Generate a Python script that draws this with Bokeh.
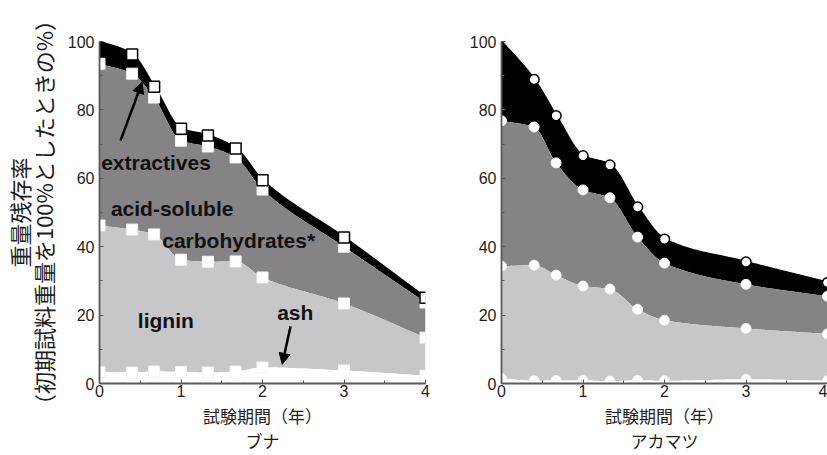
import numpy as np
from bokeh.plotting import figure
from bokeh.layouts import row
from bokeh.models import Arrow, NormalHead, Label, SingleIntervalTicker, Range1d
from bokeh.embed import file_html
from bokeh.resources import INLINE

# ---------------- data ----------------
years = [0, 0.4, 0.67, 1, 1.33, 1.67, 2, 3, 4]

buna_total = [100, 96.2, 86.8, 74.5, 72.5, 68.7, 59.4, 42.7, 25.1]
buna_noextr = [93.5, 90.6, 83.6, 71.0, 69.3, 66.1, 56.7, 40.0, 23.7]
buna_lignin = [46.2, 45.0, 43.6, 36.2, 35.6, 35.7, 31.0, 23.4, 13.4]
buna_ash = [3.3, 3.2, 3.5, 3.4, 3.2, 3.5, 4.7, 3.8, 2.3]

akamatsu_total = [100, 88.9, 78.3, 66.6, 63.9, 51.6, 42.2, 35.5, 29.5]
akamatsu_noextr = [76.8, 75.0, 64.5, 56.6, 54.3, 42.8, 35.2, 29.0, 25.5]
akamatsu_lignin = [34.3, 34.6, 31.7, 28.5, 27.6, 21.7, 18.5, 16.1, 14.5]
akamatsu_ash = [1.5, 0.8, 0.9, 0.9, 0.7, 0.9, 0.8, 1.2, 0.8]

x_label = "試験期間（年）"
y_label_1 = "重量残存率"
y_label_2 = "（初期試料重量を100%としたときの%）"
species = ["ブナ", "アカマツ"]

C_BLACK = "#000000"
C_MID = "#858385"
C_LIGHT = "#c7c6c9"
C_TEXT = "#1e1e1e"

TICK_FONT = "Liberation Sans"
JP_FONT = "Noto Sans CJK JP"


def pchip(x, y, xs):
    x = np.asarray(x, float)
    y = np.asarray(y, float)
    h = np.diff(x)
    d = np.diff(y) / h
    n = len(x)
    m = np.zeros(n)
    for k in range(1, n - 1):
        if d[k - 1] * d[k] > 0:
            w1 = 2 * h[k] + h[k - 1]
            w2 = h[k] + 2 * h[k - 1]
            m[k] = (w1 + w2) / (w1 / d[k - 1] + w2 / d[k])
    m[0] = d[0]
    m[-1] = d[-1]
    out = np.empty_like(xs)
    idx = np.clip(np.searchsorted(x, xs) - 1, 0, n - 2)
    for j, xv in enumerate(xs):
        k = idx[j]
        t = (xv - x[k]) / h[k]
        h00 = 2 * t**3 - 3 * t**2 + 1
        h10 = t**3 - 2 * t**2 + t
        h01 = -2 * t**3 + 3 * t**2
        h11 = t**3 - t**2
        out[j] = h00 * y[k] + h10 * h[k] * m[k] + h01 * y[k + 1] + h11 * h[k] * m[k + 1]
    return out


def make_panel(total, noextr, lignin, ash, marker, border_left, width, name, with_ylabel):
    p = figure(width=width, height=455, output_backend="svg", toolbar_location=None,
               x_range=Range1d(0, 4), y_range=Range1d(0, 100),
               min_border_left=border_left, min_border_right=width - border_left - 326,
               min_border_top=41, min_border_bottom=72)
    p.grid.visible = False
    p.outline_line_color = None
    p.background_fill_color = "white"

    xs = np.linspace(0, 4, 400)
    t_s = pchip(years, total, xs)
    n_s = pchip(years, noextr, xs)
    l_s = pchip(years, lignin, xs)
    a_s = pchip(years, ash, xs)

    p.varea(x=xs, y1=n_s, y2=t_s, fill_color=C_BLACK)
    p.varea(x=xs, y1=l_s, y2=n_s, fill_color=C_MID)
    p.varea(x=xs, y1=a_s, y2=l_s, fill_color=C_LIGHT)
    p.varea(x=xs, y1=0, y2=a_s, fill_color="white")
    p.line(x=xs, y=t_s, line_color="black", line_width=2.5)

    size = 11 if marker == "square" else 10
    for series in (noextr, lignin, ash):
        p.scatter(x=years, y=series, marker=marker, size=size,
                  fill_color="white", line_color="#f4f4f4", line_width=1)
    p.scatter(x=years[1:], y=total[1:], marker=marker, size=size,
              fill_color="white", line_color="black", line_width=1.5)

    p.xaxis.ticker = SingleIntervalTicker(interval=1, num_minor_ticks=2)
    p.yaxis.ticker = SingleIntervalTicker(interval=20, num_minor_ticks=2)
    for ax in (p.xaxis, p.yaxis):
        ax.axis_line_color = "#5a5a5a"
        ax.axis_line_width = 1.8
        ax.major_tick_in = 4
        ax.major_tick_out = 0
        ax.minor_tick_in = 3
        ax.minor_tick_out = 0
        ax.major_tick_line_color = "#5a5a5a"
        ax.minor_tick_line_color = "#5a5a5a"
        ax.major_label_text_font = TICK_FONT
        ax.major_label_text_font_size = "16px"
        ax.major_label_text_color = C_TEXT
    p.xaxis.major_label_standoff = 1
    p.yaxis.major_label_standoff = 5

    # x-axis title and species name as a two-line axis label
    p.xaxis.axis_label = x_label + "\n" + name
    p.xaxis.axis_label_text_font = JP_FONT
    p.xaxis.axis_label_text_font_size = "17px"
    p.xaxis.axis_label_text_font_style = "normal"
    p.xaxis.axis_label_text_color = C_TEXT
    p.xaxis.axis_label_text_line_height = 1.0
    p.xaxis.axis_label_standoff = 3

    if with_ylabel:
        p.yaxis.axis_label = y_label_1 + "\n" + y_label_2
        p.yaxis.axis_label_text_font = JP_FONT
        p.yaxis.axis_label_text_font_size = "22px"
        p.yaxis.axis_label_text_font_style = "normal"
        p.yaxis.axis_label_text_color = C_TEXT
        p.yaxis.axis_label_text_line_height = 0.73
        p.yaxis.axis_label_standoff = 6
    return p


p1 = make_panel(buna_total, buna_noextr, buna_lignin, buna_ash, "square", 99, 440, species[0], True)
p2 = make_panel(akamatsu_total, akamatsu_noextr, akamatsu_lignin, akamatsu_ash, "circle", 61, 387, species[1], False)

# annotations on the left panel
ann = [("extractives", 0.02, 64.6), ("acid-soluble", 0.14, 51.2),
       ("carbohydrates*", 0.77, 41.8), ("lignin", 0.47, 18.4), ("ash", 2.18, 20.8)]
for txt, ax_, ay_ in ann:
    p1.add_layout(Label(x=ax_, y=ay_, text=txt, text_font=TICK_FONT, text_font_size="21px",
                        text_font_style="bold", text_color="#111111",
                        text_baseline="middle", text_align="left"))

p1.add_layout(Arrow(end=NormalHead(size=11, fill_color="black", line_color="black"),
                    x_start=0.258, y_start=71.0, x_end=0.523, y_end=88.1,
                    line_width=2.5, line_color="black"))
p1.add_layout(Arrow(end=NormalHead(size=11, fill_color="black", line_color="black"),
                    x_start=2.344, y_start=16.7, x_end=2.242, y_end=5.6,
                    line_width=2.5, line_color="black"))

layout = row(p1, p2)
open("out.html", "w").write(file_html(layout, INLINE))
